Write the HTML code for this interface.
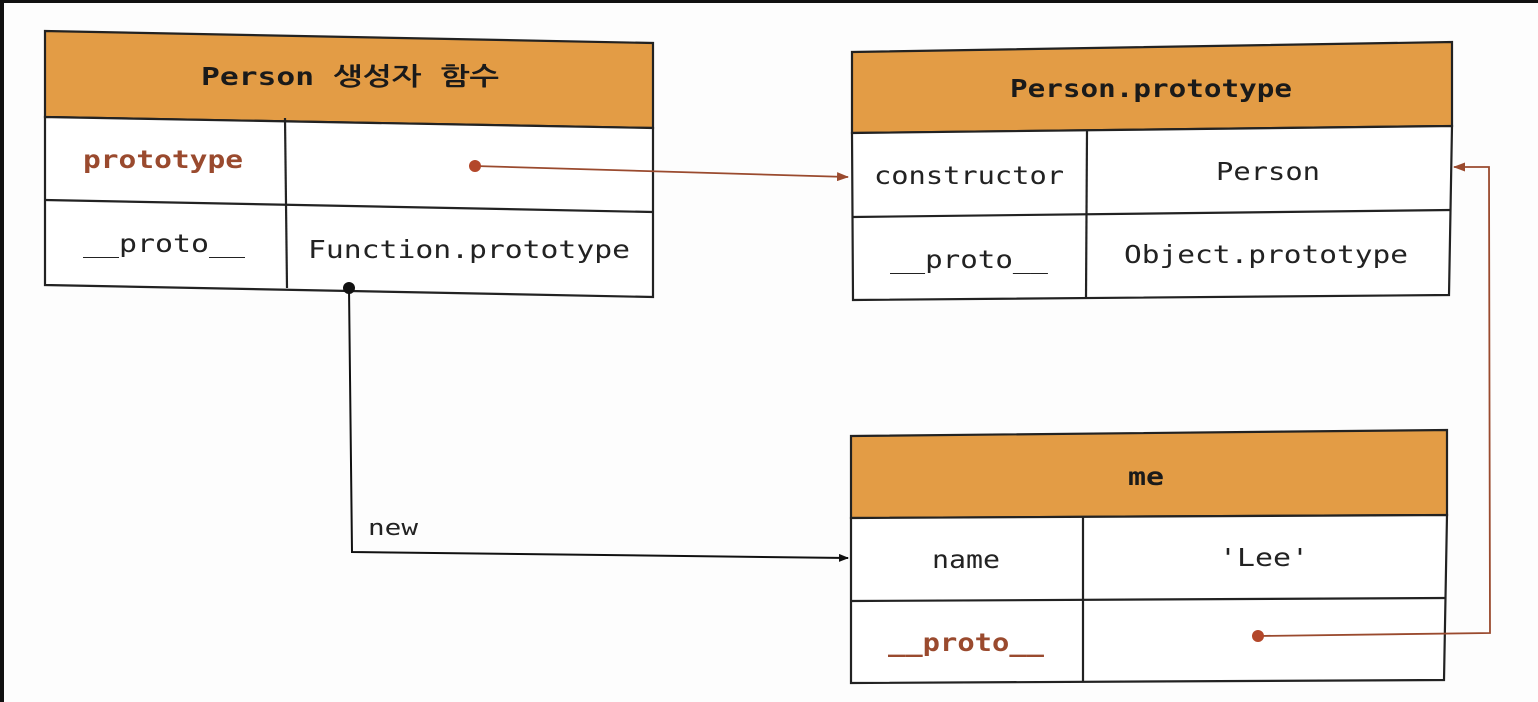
<!DOCTYPE html>
<html><head><meta charset="utf-8"><style>
html,body{margin:0;padding:0;background:#fff;}
svg{display:block}
text{font-family:"DejaVu Sans Mono","Liberation Mono","NanumGothic","Noto Sans CJK KR",monospace;font-size:25px;fill:#222}
.b{font-weight:bold;fill:#1a1a1a}
.r{fill:#9a4a2e;font-weight:bold}
</style></head><body>
<svg width="1538" height="702" viewBox="0 0 1538 702" xmlns="http://www.w3.org/2000/svg">
<rect x="0" y="0" width="1538" height="702" fill="#fdfdfd"/>
<rect x="0" y="0" width="1538" height="3" fill="#111"/>
<rect x="0" y="0" width="4" height="702" fill="#111"/>
<defs>
<marker id="ab" markerWidth="10" markerHeight="8" refX="9" refY="4" orient="auto" markerUnits="userSpaceOnUse"><path d="M0,0 L10,4 L0,8 z" fill="#111"/></marker>
<marker id="ar" markerWidth="12" markerHeight="9" refX="11" refY="4.5" orient="auto" markerUnits="userSpaceOnUse"><path d="M0,0 L12,4.5 L0,9 z" fill="#9a4a2e"/></marker>
</defs>
<g stroke="#222" stroke-width="2.2" fill="none">
<polygon points="45,31 653,43 653,128 45,117" fill="#e39c45"/>
<polygon points="45,117 653,128 653,297 45,285" fill="#fff"/>
<line x1="45" y1="200" x2="653" y2="212"/>
<line x1="285" y1="118" x2="287" y2="288"/>
<polygon points="852,52 1452,42 1452,126 852,133" fill="#e39c45"/>
<polygon points="852,133 1452,126 1449,295 853,300" fill="#fff"/>
<line x1="852" y1="217" x2="1451" y2="210"/>
<line x1="1087" y1="131" x2="1086" y2="298"/>
<polygon points="851,436 1447,430 1447,515 851,518" fill="#e39c45"/>
<polygon points="851,518 1447,515 1444,680 851,683" fill="#fff"/>
<line x1="851" y1="601" x2="1446" y2="598"/>
<line x1="1083" y1="517" x2="1083" y2="682"/>
</g>
<line x1="475" y1="166" x2="848" y2="177" stroke="#9a4a2e" stroke-width="1.8" marker-end="url(#ar)"/>
<circle cx="475" cy="166" r="6" fill="#b3472a"/>
<polyline points="349,288 352,552 848,558" fill="none" stroke="#111" stroke-width="2" marker-end="url(#ab)"/>
<circle cx="349" cy="288" r="6" fill="#111"/>
<polyline points="1258,636 1490,633 1489,167 1454,167" fill="none" stroke="#9a4a2e" stroke-width="1.8" marker-end="url(#ar)"/>
<circle cx="1258" cy="636" r="6" fill="#b3472a"/>
<text x="350" y="85" class="b" text-anchor="middle" textLength="298" lengthAdjust="spacingAndGlyphs">Person 생성자 함수</text>
<text x="163" y="168" class="r" text-anchor="middle" textLength="160" lengthAdjust="spacingAndGlyphs">prototype</text>
<text x="164" y="252" text-anchor="middle" textLength="162" lengthAdjust="spacingAndGlyphs">__proto__</text>
<text x="469" y="258" text-anchor="middle" textLength="322" lengthAdjust="spacingAndGlyphs">Function.prototype</text>
<text x="1151" y="97" class="b" text-anchor="middle" textLength="282" lengthAdjust="spacingAndGlyphs">Person.prototype</text>
<text x="969" y="184" text-anchor="middle" textLength="190" lengthAdjust="spacingAndGlyphs">constructor</text>
<text x="1268" y="180" text-anchor="middle" textLength="104" lengthAdjust="spacingAndGlyphs">Person</text>
<text x="969" y="268" text-anchor="middle" textLength="158" lengthAdjust="spacingAndGlyphs">__proto__</text>
<text x="1266" y="263" text-anchor="middle" textLength="284" lengthAdjust="spacingAndGlyphs">Object.prototype</text>
<text x="1146" y="485" class="b" text-anchor="middle" textLength="36" lengthAdjust="spacingAndGlyphs">me</text>
<text x="966" y="568" text-anchor="middle" textLength="68" lengthAdjust="spacingAndGlyphs">name</text>
<text x="1264" y="566" text-anchor="middle" textLength="90" lengthAdjust="spacingAndGlyphs">'Lee'</text>
<text x="966" y="651" class="r" text-anchor="middle" textLength="156" lengthAdjust="spacingAndGlyphs">__proto__</text>
<text x="368" y="535" textLength="50" lengthAdjust="spacingAndGlyphs" style="font-size:22px">new</text>
</svg>
</body></html>
